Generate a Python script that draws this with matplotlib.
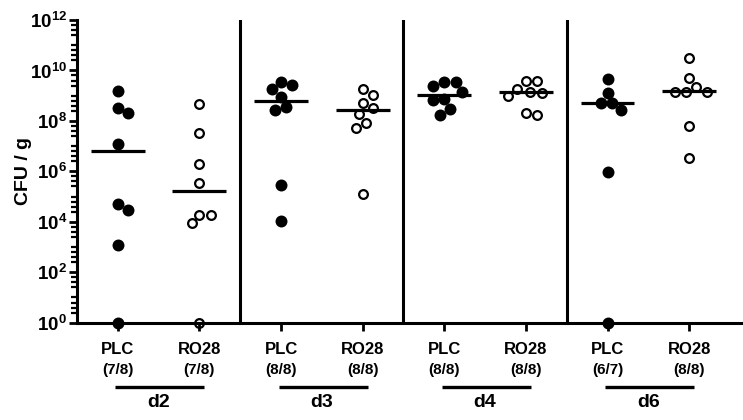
import numpy as np
import matplotlib
matplotlib.use("Agg")
import matplotlib.pyplot as plt
from matplotlib.ticker import FixedLocator, NullFormatter

plt.rcParams["font.family"] = ["Liberation Sans", "DejaVu Sans"]
plt.rcParams["font.weight"] = "bold"
plt.rcParams["mathtext.fontset"] = "custom"
plt.rcParams["mathtext.bf"] = "Liberation Sans:bold"
plt.rcParams["mathtext.rm"] = "Liberation Sans:bold"

# dados (CFU / g)
days = ["d2", "d3", "d4", "d6"]
groups = ["PLC", "RO28"]
ratios = ["(7/8)", "(7/8)", "(8/8)", "(8/8)", "(8/8)", "(8/8)", "(6/7)", "(8/8)"]

d2_plc = [1.6e9, 3.2e8, 2.0e8, 1.2e7, 5.1e4, 3.0e4, 1.2e3, 1]
d2_ro28 = [4.6e8, 3.2e7, 1.9e6, 3.4e5, 1.9e4, 1.9e4, 8.7e3, 1]
d3_plc = [3.4e9, 2.7e9, 1.8e9, 9.1e8, 3.5e8, 2.6e8, 2.8e5, 1.1e4]
d3_ro28 = [1.8e9, 1.1e9, 5.2e8, 3.2e8, 1.9e8, 8.1e7, 5.1e7, 1.3e5]
d4_plc = [3.4e9, 3.4e9, 2.5e9, 1.4e9, 7.2e8, 6.8e8, 2.9e8, 1.7e8]
d4_ro28 = [3.7e9, 3.7e9, 1.9e9, 1.4e9, 1.3e9, 9.8e8, 2.1e8, 1.7e8]
d6_plc = [4.5e9, 1.3e9, 5.0e8, 5.0e8, 2.6e8, 9.8e5, 1]
d6_ro28 = [3.0e10, 5.2e9, 2.3e9, 1.4e9, 1.4e9, 1.4e9, 6.3e7, 3.3e6]

series = [d2_plc, d2_ro28, d3_plc, d3_ro28, d4_plc, d4_ro28, d6_plc, d6_ro28]
center_lines = [6.5e6, 1.7e5, 6.2e8, 2.6e8, 1.1e9, 1.4e9, 5.0e8, 1.5e9]


def swarm(py, diam):
    # beeswarm simples: cada ponto vai para o x livre mais proximo do centro
    order = np.argsort(-py)
    placed = []
    out = np.zeros(len(py))
    for i in order:
        cands = [0.0]
        for (xj, yj) in placed:
            dy = py[i] - yj
            if abs(dy) < diam:
                dx = np.sqrt(diam ** 2 - dy ** 2)
                cands += [xj - dx, xj + dx]
        cands.sort(key=lambda c: (round(abs(c), 3), -c))
        for c in cands:
            ok = all((c - xj) ** 2 + (py[i] - yj) ** 2 >= diam ** 2 - 1e-6
                     for (xj, yj) in placed)
            if ok:
                break
        placed.append((c, py[i]))
        out[i] = c
    return out


fig = plt.figure(figsize=(7.43, 4.2), dpi=100)
ax = fig.add_axes([77 / 743, 97.3 / 420, 666 / 743, 302.7 / 420])
ax.set_yscale("log")
ax.set_ylim(1, 1e12)
ax.set_xlim(-0.5, 7.66)

for s in ["top", "right"]:
    ax.spines[s].set_visible(False)
for s in ["left", "bottom"]:
    ax.spines[s].set_linewidth(2.2)

fig.canvas.draw()
to_px = ax.transData
x_scale = to_px.transform((1, 1))[0] - to_px.transform((0, 1))[0]

for i, vals in enumerate(series):
    vals = np.array(vals, dtype=float)
    py = to_px.transform(np.column_stack([np.full(len(vals), i), vals]))[:, 1]
    offs = swarm(py, 11.5) / x_scale
    if i % 2 == 0:
        ax.plot(i + offs, vals, "o", ms=8.6, mfc="black", mec="black", mew=0,
                clip_on=False, zorder=4)
    else:
        ax.plot(i + offs, vals, "o", ms=6.3, mfc="none", mec="black", mew=1.6,
                clip_on=False, zorder=4)
    ax.hlines(center_lines[i], i - 0.33, i + 0.33, color="black", lw=2.3, zorder=5)

for xs in [1.5, 3.5, 5.5]:
    ax.axvline(xs, color="black", lw=2.2, zorder=3)

# eixo y
major = [10.0 ** k for k in range(0, 13, 2)]
ax.yaxis.set_major_locator(FixedLocator(major))
ax.set_yticklabels([r"$\mathbf{10^{%d}}$" % k for k in range(0, 13, 2)], fontsize=13.5)
minor = []
for k in range(12):
    minor += [10.0 ** (k + f) for f in (0.4, 0.6, 0.8)]
    if k % 2 == 1:
        minor.append(10.0 ** k)
ax.yaxis.set_minor_locator(FixedLocator(minor))
ax.yaxis.set_minor_formatter(NullFormatter())
ax.tick_params(axis="y", which="major", length=6, width=2, pad=1)
ax.tick_params(axis="y", which="minor", length=4, width=1.6)

# eixo x
ax.set_xticks(range(len(series)))
ax.set_xticklabels([""] * len(series))
ax.tick_params(axis="x", which="major", length=6, width=2)

tr = ax.get_xaxis_transform()
for i in range(len(series)):
    ax.text(i, -0.089, groups[i % 2], transform=tr, ha="center", va="center",
            fontsize=12, fontweight="bold")
    ax.text(i, -0.156, ratios[i], transform=tr, ha="center", va="center",
            fontsize=11, fontweight="bold")
for j, d in enumerate(days):
    a, b = 2 * j, 2 * j + 1
    ax.plot([a - 0.03, b + 0.06], [-0.212, -0.212], color="black", lw=2.4,
            transform=tr, clip_on=False, solid_capstyle="butt")
    ax.text((a + b) / 2, -0.262, d, transform=tr, ha="center", va="center",
            fontsize=14, fontweight="bold")

fig.text(23 / 743, 1 - 171 / 420, "CFU / g", rotation=90, ha="center", va="center",
         fontsize=14, fontweight="bold")

fig.savefig("out.png", dpi=100)
